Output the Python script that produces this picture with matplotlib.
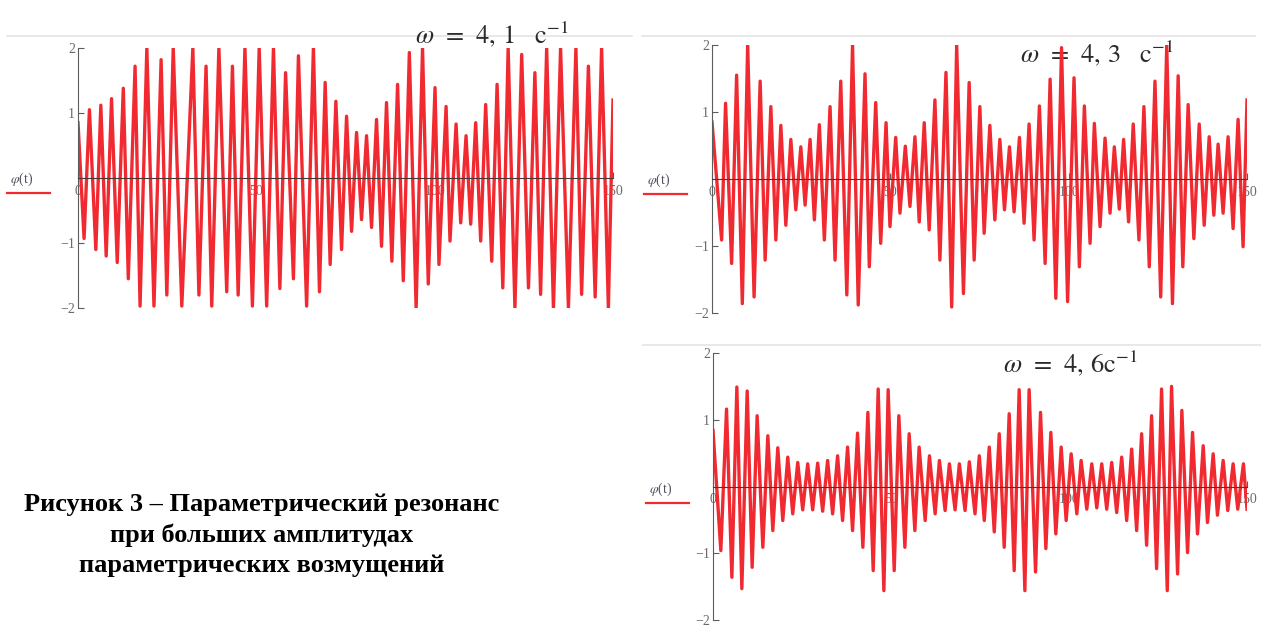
import matplotlib.pyplot as plt
from matplotlib.lines import Line2D

W, H = 1261, 625
plt.rcParams['font.family'] = ['Liberation Serif', 'DejaVu Serif']
plt.rcParams['mathtext.fontset'] = 'stix'

# extrema of phi(t): times and alternating max/min values, omega = 4.1 1/s
t_41 = [0.0, 1.7, 3.2, 5.0, 6.4, 7.9, 9.4, 11.0, 12.7, 14.1,
        16.0, 17.4, 19.3, 21.3, 23.3, 24.9, 26.7, 29.1, 32.2, 33.9,
        35.9, 37.5, 39.5, 41.7, 43.3, 44.9, 46.8, 48.9, 50.8, 52.9,
        54.8, 56.6, 58.2, 60.4, 61.8, 64.1, 66.0, 67.7, 69.3, 70.7,
        72.3, 73.9, 75.3, 76.7, 78.1, 79.5, 80.9, 82.3, 83.7, 85.1,
        86.5, 88.0, 89.6, 91.2, 92.9, 94.8, 96.6, 98.2, 100.1, 101.2,
        103.2, 104.3, 106.0, 107.3, 108.8, 110.1, 111.5, 112.9, 114.3, 116.0,
        117.5, 119.1, 120.6, 122.5, 124.4, 126.3, 128.1, 129.7, 131.4, 133.3,
        135.3, 137.5, 139.6, 141.2, 143.1, 145.0, 146.8, 148.7, 150.0]
phi_41 = [0.85, -0.93, 1.05, -1.1, 1.12, -1.2, 1.22, -1.3, 1.38, -1.55,
          1.72, -1.97, 2.0, -1.97, 1.82, -1.8, 2.0, -1.97, 2.0, -1.8,
          1.72, -1.97, 2.0, -1.75, 1.72, -1.8, 2.0, -1.97, 2.0, -1.97,
          2.0, -1.7, 1.62, -1.55, 1.88, -1.97, 2.0, -1.75, 1.47, -1.33,
          1.18, -1.1, 0.95, -0.82, 0.7, -0.64, 0.65, -0.76, 0.9, -1.05,
          1.16, -1.28, 1.44, -1.58, 1.93, -2.0, 2.0, -1.63, 1.39, -1.33,
          1.1, -0.97, 0.83, -0.69, 0.65, -0.71, 0.85, -0.97, 1.13, -1.28,
          1.44, -1.69, 2.0, -2.0, 1.9, -1.69, 1.62, -1.79, 2.0, -2.0,
          2.0, -2.0, 2.0, -1.79, 1.72, -1.83, 2.0, -2.0, 1.2]

# omega = 4.3 1/s
t_43 = [0.0, 2.7, 3.8, 5.5, 6.9, 8.5, 10.0, 11.8, 13.5, 14.9,
        16.5, 17.9, 19.3, 20.7, 22.1, 23.5, 24.9, 26.1, 27.5, 28.7,
        30.1, 31.5, 33.1, 34.5, 36.1, 37.8, 39.4, 41.0, 42.9, 44.1,
        45.9, 47.3, 48.8, 49.9, 51.5, 52.7, 54.2, 55.5, 56.9, 58.1,
        59.5, 60.9, 62.5, 63.9, 65.6, 67.2, 68.6, 70.5, 72.1, 73.5,
        75.1, 76.3, 77.9, 79.3, 80.7, 82.0, 83.4, 84.7, 86.2, 87.5,
        88.9, 90.3, 91.8, 93.4, 94.8, 96.4, 98.0, 99.7, 101.5, 103.0,
        104.4, 106.0, 107.2, 108.8, 110.2, 111.6, 112.8, 114.2, 115.4, 116.8,
        118.1, 119.7, 121.1, 122.6, 124.2, 125.8, 127.5, 129.1, 130.7, 132.0,
        133.5, 135.1, 136.6, 138.0, 139.4, 140.7, 141.9, 143.3, 144.7, 146.1,
        147.5, 148.9, 150.0]
phi_43 = [0.85, -0.91, 1.13, -1.26, 1.55, -1.86, 2.0, -1.76, 1.46, -1.21,
          1.08, -0.91, 0.8, -0.69, 0.59, -0.46, 0.48, -0.39, 0.59, -0.61,
          0.81, -0.91, 1.08, -1.21, 1.46, -1.73, 2.0, -1.88, 1.57, -1.31,
          1.14, -0.96, 0.84, -0.71, 0.62, -0.51, 0.49, -0.41, 0.63, -0.64,
          0.84, -0.76, 1.18, -1.21, 1.59, -1.91, 2.0, -1.71, 1.44, -1.21,
          1.08, -0.81, 0.8, -0.61, 0.59, -0.46, 0.48, -0.49, 0.62, -0.66,
          0.82, -0.91, 1.09, -1.26, 1.49, -1.78, 1.96, -1.83, 1.51, -1.31,
          1.09, -0.96, 0.83, -0.71, 0.61, -0.51, 0.48, -0.45, 0.59, -0.64,
          0.82, -0.91, 1.08, -1.31, 1.46, -1.76, 2.0, -1.86, 1.54, -1.31,
          1.11, -0.89, 0.82, -0.69, 0.63, -0.54, 0.52, -0.51, 0.63, -0.74,
          0.89, -1.01, 1.18]

# omega = 4.6 1/s
t_46 = [0.0, 2.2, 3.8, 5.3, 6.7, 8.1, 9.6, 11.0, 12.4, 14.0,
        15.4, 16.8, 18.2, 19.6, 21.0, 22.4, 23.8, 25.2, 26.6, 28.0,
        29.4, 30.8, 32.2, 33.6, 35.0, 36.4, 37.8, 39.2, 40.6, 42.1,
        43.5, 45.0, 46.4, 48.0, 49.2, 50.9, 52.2, 53.9, 55.1, 56.7,
        57.9, 59.6, 60.8, 62.4, 63.6, 65.2, 66.4, 68.0, 69.2, 70.8,
        72.0, 73.6, 74.8, 76.2, 77.6, 79.0, 80.4, 81.8, 83.2, 84.6,
        86.0, 87.6, 88.8, 90.6, 92.0, 93.5, 94.9, 96.3, 97.8, 99.2,
        100.6, 102.2, 103.4, 105.0, 106.4, 107.8, 109.2, 110.6, 112.0, 113.4,
        114.8, 116.2, 117.6, 119.0, 120.4, 121.8, 123.2, 124.6, 126.0, 127.6,
        128.8, 130.5, 131.7, 133.3, 134.7, 136.1, 137.7, 138.9, 140.5, 141.7,
        143.3, 144.6, 146.1, 147.4, 149.0, 150.0]
phi_46 = [0.84, -0.96, 1.16, -1.36, 1.49, -1.53, 1.43, -1.21, 1.06, -0.91,
          0.76, -0.66, 0.58, -0.51, 0.44, -0.41, 0.36, -0.35, 0.34, -0.35,
          0.35, -0.37, 0.39, -0.41, 0.46, -0.51, 0.59, -0.66, 0.8, -0.91,
          1.11, -1.26, 1.46, -1.56, 1.45, -1.26, 1.06, -0.91, 0.79, -0.66,
          0.59, -0.51, 0.46, -0.41, 0.39, -0.36, 0.34, -0.35, 0.34, -0.36,
          0.37, -0.41, 0.46, -0.51, 0.59, -0.68, 0.79, -0.91, 1.09, -1.26,
          1.45, -1.56, 1.45, -1.28, 1.11, -0.93, 0.81, -0.71, 0.59, -0.51,
          0.49, -0.41, 0.39, -0.34, 0.34, -0.32, 0.34, -0.34, 0.36, -0.39,
          0.44, -0.51, 0.56, -0.66, 0.79, -0.88, 1.06, -1.23, 1.46, -1.56,
          1.5, -1.31, 1.14, -0.99, 0.81, -0.71, 0.61, -0.54, 0.49, -0.43,
          0.39, -0.36, 0.34, -0.34, 0.34, -0.34]

x_ticks = [0, 50, 100, 150]
y_ticks = [-2, -1, 1, 2]
y_ticklabels = ['\u22122', '\u22121', '1', '2']

titles = [r'$\omega\;\,=\;\,4,\,1\quad\mathrm{c}^{-1}$',
          r'$\omega\;\,=\;\,4,\,3\quad\mathrm{c}^{-1}$',
          r'$\omega\;\,=\;\,4,\,6\mathrm{c}^{-1}$']

caption = ('Рисунок 3 \u2013 Параметрический резонанс\n'
           'при больших амплитудах\n'
           'параметрических возмущений')

RED = '#f02a30'

fig = plt.figure(figsize=(W / 100, H / 100), dpi=100)


def fx(x):
    return x / W


def fy(y):
    return 1 - y / H


def hline(x0, x1, y, color, lw, z=-1):
    fig.add_artist(Line2D([fx(x0), fx(x1)], [fy(y), fy(y)],
                          transform=fig.transFigure, color=color, lw=lw, zorder=z))


def panel(box, t, phi, title, title_pos, lab_pos):
    x0, y0, x1, y1 = box
    ax = fig.add_axes([fx(x0), fy(y1), (x1 - x0) / W, (y1 - y0) / H])
    ax.patch.set_alpha(0)
    ax.plot(t, phi, color=RED, lw=2.4, zorder=3, solid_joinstyle='round')
    ax.set_xlim(0, 150)
    ax.set_ylim(-2, 2)
    for s in ['top', 'right']:
        ax.spines[s].set_visible(False)
    ax.spines['left'].set_position(('data', 0))
    ax.spines['bottom'].set_position(('data', 0))
    ax.spines['left'].set_color('#5c5c5c')
    ax.spines['bottom'].set_color('#4a3838')
    ax.spines['left'].set_zorder(4)
    ax.spines['bottom'].set_zorder(4)
    ax.set_xticks(x_ticks)
    ax.set_xticklabels([str(v) for v in x_ticks])
    ax.set_yticks(y_ticks)
    ax.set_yticklabels(y_ticklabels)
    ax.tick_params(direction='in', length=4, width=0.8, color='#5c5c5c',
                   labelsize=10, labelcolor='#6a6a6a', pad=2)
    ax.tick_params(axis='x', pad=5)
    ax.text(fx(title_pos[0]), fy(title_pos[1]), title, transform=fig.transFigure,
            fontsize=19, color='#2b2b2b', ha='left', va='baseline',
            zorder=1, clip_on=False)

    # legend-style series label with red underline
    lx, ly = lab_pos
    fig.text(fx(lx + 3), fy(ly), r'$\varphi$(t)', fontsize=10, color='#505060',
             ha='left', va='center')
    hline(lx, lx + 43, ly + 14, RED, 1.6, z=3)
    return ax


# thin grey frame edges above each plot
hline(7, 632, 36, '#e4e4e4', 1.2)
hline(642, 1255, 36, '#e4e4e4', 1.2)
hline(643, 1261, 345, '#e4e4e4', 1.2)

panel((78, 48, 613, 308), t_41, phi_41, titles[0], (415, 43), (7, 179))
panel((712, 45, 1247, 313), t_43, phi_43, titles[1], (1020, 62), (644, 180))
panel((713, 353, 1247, 620), t_46, phi_46, titles[2], (1003, 372), (646, 489))

fig.text(fx(262), fy(535), caption, ha='center', va='center', fontsize=19,
         fontweight='bold', color='black', linespacing=1.42)

fig.savefig('out.png', dpi=100)
